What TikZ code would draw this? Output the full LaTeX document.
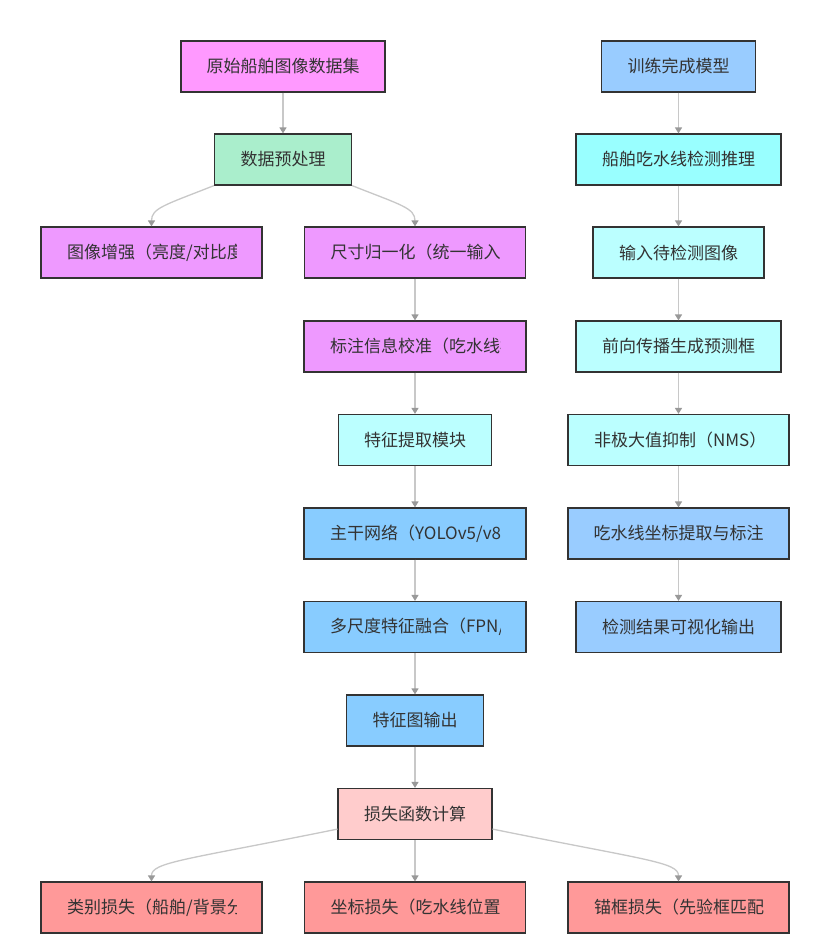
\documentclass[tikz,border=0pt]{standalone}
\usepackage{fontspec}
\newfontfamily\cjk{Noto Sans CJK SC}
\usetikzlibrary{arrows.meta,calc}
\definecolor{bordc}{HTML}{333333}
\definecolor{linec}{HTML}{C8C8C8}
\definecolor{tipc}{HTML}{999999}
\definecolor{cmag}{HTML}{FF99FF}
\definecolor{cviol}{HTML}{EE99FF}
\definecolor{cmint}{HTML}{AAEECC}
\definecolor{clcyan}{HTML}{BBFFFF}
\definecolor{ccyan}{HTML}{99FFFF}
\definecolor{csky}{HTML}{88CCFF}
\definecolor{cblue}{HTML}{99CCFF}
\definecolor{cpink}{HTML}{FFCCCC}
\definecolor{cred}{HTML}{FF9999}
\tikzset{
  box/.style={draw=bordc, line width=1.2pt, minimum height=51pt, inner sep=0pt,
    font=\cjk\fontsize{17}{20}\selectfont, text=bordc},
  txt/.style={inner sep=0pt, font=\cjk\fontsize{17}{20}\selectfont, text=bordc},
  arr/.style={draw=linec, line width=1.3pt, -{Triangle[width=7pt,length=6pt,color=tipc]}}
}
\newcommand{\cbox}[6]{%
  \node[box, fill=#5, minimum width=#4pt] (#1) at (#2,#3) {};
  \begin{scope}
    \clip ($(#1.south west)+(26.5,0)$) rectangle ($(#1.north east)+(-26,0)$);
    \node[txt, anchor=west] at ($(#1.west)+(26.5,0)$) {#6};
  \end{scope}}
\begin{document}
\begin{tikzpicture}[x=1pt,y=-1pt]
\fill[white] (0,0) rectangle (830,940);
\useasboundingbox (0,0) rectangle (830,940);
% left / middle
\node[box, fill=cmag, minimum width=204pt] (n1) at (283,66.5) {原始船舶图像数据集};
\node[box, fill=cmint, minimum width=137pt] (n2) at (283,159.5) {数据预处理};
\cbox{n3}{151.5}{252.5}{221}{cviol}{图像增强（亮度/对比度调整）}
\cbox{n4}{415}{252.5}{221}{cviol}{尺寸归一化（统一输入尺寸）}
\cbox{n5}{415}{346.5}{222}{cviol}{标注信息校准（吃水线标注）}
\node[box, fill=clcyan, minimum width=153pt] (n6) at (415,440) {特征提取模块};
\cbox{n7}{415}{533.5}{222}{csky}{主干网络（YOLOv5/v8）}
\cbox{n8}{415}{627}{222}{csky}{多尺度特征融合（FPN/PAN）}
\node[box, fill=csky, minimum width=137pt] (n9) at (415,720.5) {特征图输出};
\node[box, fill=cpink, minimum width=154pt] (n10) at (415,814) {损失函数计算};
\cbox{n11}{151.5}{907.5}{221}{cred}{类别损失（船舶/背景分类）}
\cbox{n12}{415}{907.5}{221}{cred}{坐标损失（吃水线位置回归）}
\cbox{n13}{678.5}{907.5}{221}{cred}{锚框损失（先验框匹配）}
% right
\node[box, fill=cblue, minimum width=154pt] (r1) at (678.5,66.5) {训练完成模型};
\node[box, fill=ccyan, minimum width=205pt] (r2) at (678.5,159.5) {船舶吃水线检测推理};
\node[box, fill=clcyan, minimum width=171pt] (r3) at (678.5,252.5) {输入待检测图像};
\node[box, fill=clcyan, minimum width=205pt] (r4) at (678.5,346.5) {前向传播生成预测框};
\cbox{r5}{678.5}{440}{221}{clcyan}{非极大值抑制（NMS）筛选}
\node[box, fill=cblue, minimum width=221pt] (r6) at (678.5,533.5) {吃水线坐标提取与标注};
\node[box, fill=cblue, minimum width=205pt] (r7) at (678.5,627) {检测结果可视化输出};
% edges
\draw[arr] (n1.south) -- (n2.north);
\draw[arr] (n2.south west) .. controls (165,205) and (151.5,208) .. (n3.north);
\draw[arr] (n2.south east) .. controls (401,205) and (415,208) .. (n4.north);
\draw[arr] (n4.south) -- (n5.north);
\draw[arr] (n5.south) -- (n6.north);
\draw[arr] (n6.south) -- (n7.north);
\draw[arr] (n7.south) -- (n8.north);
\draw[arr] (n8.south) -- (n9.north);
\draw[arr] (n9.south) -- (n10.north);
\draw[arr] ($(n10.south west)+(0,-11)$) .. controls (185,860) and (151.5,862) .. (n11.north);
\draw[arr] (n10.south) -- (n12.north);
\draw[arr] ($(n10.south east)+(0,-11)$) .. controls (645,860) and (678.5,862) .. (n13.north);
\draw[arr] (r1.south) -- (r2.north);
\draw[arr] (r2.south) -- (r3.north);
\draw[arr] (r3.south) -- (r4.north);
\draw[arr] (r4.south) -- (r5.north);
\draw[arr] (r5.south) -- (r6.north);
\draw[arr] (r6.south) -- (r7.north);
\end{tikzpicture}
\end{document}
